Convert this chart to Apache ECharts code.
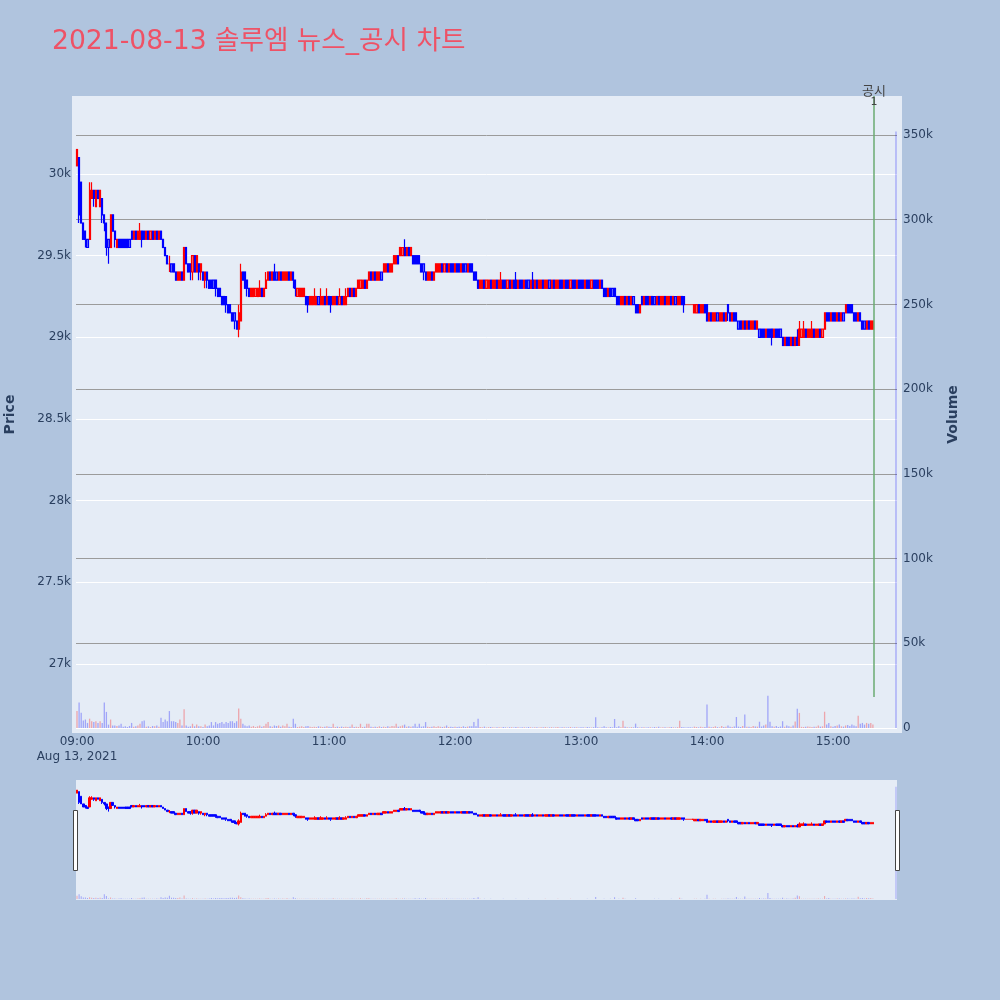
<!DOCTYPE html>
<html>
<head>
<meta charset="utf-8">
<title>chart</title>
<script src="https://cdn.jsdelivr.net/npm/echarts@6.0.0/dist/echarts.min.js"></script>
<style>
html,body{margin:0;padding:0;background:#b0c4de;}
#chart{width:1000px;height:1000px;}
</style>
</head>
<body>
<div id="chart"></div>
<script>
// ---------------- data ----------------
const chartTitle = '2021-08-13 솔루엠 뉴스_공시 차트';
const sessionStart = '09:00';   // first one-minute candle; one entry per minute below

const openPrices = [
30050,30100,29950,29700,29650,29600,29600,29850,29900,29800,
29900,29800,29850,29750,29700,29600,29550,29750,29650,29550,
29600,29600,29600,29600,29600,29600,29650,29600,29650,29600,
29600,29650,29650,29600,29650,29600,29650,29600,29650,29600,
29650,29600,29550,29500,29450,29450,29450,29400,29350,29350,
29400,29350,29550,29450,29450,29400,29500,29400,29450,29400,
29400,29350,29400,29350,29350,29350,29350,29300,29300,29250,
29250,29250,29200,29200,29150,29150,29100,29050,29100,29400,
29400,29350,29300,29250,29250,29250,29250,29250,29300,29250,
29300,29350,29400,29350,29400,29400,29350,29400,29350,29350,
29350,29400,29350,29400,29350,29250,29250,29250,29250,29250,
29250,29200,29200,29200,29200,29250,29200,29200,29250,29200,
29250,29250,29200,29200,29250,29200,29250,29200,29200,29250,
29300,29250,29300,29250,29300,29300,29300,29350,29300,29350,
29400,29350,29400,29350,29350,29400,29400,29400,29450,29400,
29400,29450,29450,29500,29500,29500,29550,29500,29550,29500,
29500,29500,29500,29500,29450,29450,29400,29350,29350,29400,
29350,29400,29400,29400,29450,29400,29450,29400,29450,29450,
29400,29450,29450,29400,29450,29450,29400,29450,29450,29400,
29400,29350,29300,29300,29350,29300,29300,29350,29300,29300,
29350,29300,29300,29350,29350,29300,29350,29300,29350,29350,
29300,29350,29350,29300,29350,29350,29300,29350,29300,29350,
29300,29300,29350,29300,29300,29350,29300,29350,29300,29300,
29350,29350,29300,29350,29350,29300,29350,29350,29300,29350,
29350,29350,29300,29350,29350,29300,29350,29350,29350,29300,
29350,29300,29300,29250,29300,29300,29300,29250,29250,29200,
29200,29250,29200,29250,29200,29250,29200,29200,29150,29250,
29200,29250,29250,29200,29250,29250,29200,29250,29200,29200,
29250,29200,29200,29250,29200,29250,29200,29200,29250,29250,
29200,29200,29200,29200,29150,29150,29200,29150,29150,29200,
29200,29100,29150,29100,29100,29150,29100,29100,29150,29100,
29200,29150,29100,29150,29150,29100,29100,29050,29100,29050,
29100,29050,29050,29100,29050,29050,29050,29050,29000,29050,
29050,29050,29000,29050,29050,29050,29000,28950,29000,29000,
28950,29000,28950,29000,28950,29000,29000,29050,29000,29000,
29000,29050,29000,29000,29050,29000,29050,29150,29150,29100,
29150,29150,29100,29150,29100,29150,29150,29200,29200,29200,
29150,29150,29100,29150,29100,29100,29050,29100,29050,29050
];
const closePrices = [
30150,29750,29700,29600,29600,29550,29900,29900,29850,29900,
29850,29900,29750,29700,29550,29550,29750,29650,29600,29600,
29550,29550,29550,29550,29550,29550,29600,29650,29600,29650,
29650,29600,29600,29650,29600,29650,29600,29650,29600,29650,
29600,29550,29500,29450,29450,29400,29400,29350,29400,29400,
29350,29550,29450,29400,29400,29500,29400,29500,29400,29450,
29350,29400,29350,29300,29300,29300,29300,29250,29250,29200,
29200,29200,29150,29150,29100,29100,29050,29150,29400,29350,
29300,29300,29250,29300,29300,29300,29300,29300,29250,29300,
29350,29400,29350,29400,29350,29350,29400,29350,29400,29400,
29400,29350,29400,29350,29300,29300,29300,29300,29300,29200,
29200,29250,29250,29250,29250,29200,29250,29250,29200,29250,
29200,29200,29250,29250,29200,29250,29200,29250,29250,29300,
29250,29300,29250,29300,29350,29350,29350,29300,29350,29400,
29350,29400,29350,29400,29400,29350,29450,29450,29400,29450,
29450,29500,29500,29450,29550,29550,29500,29550,29500,29550,
29450,29450,29450,29450,29400,29400,29350,29400,29400,29350,
29400,29450,29450,29450,29400,29450,29400,29450,29400,29400,
29450,29400,29400,29450,29400,29400,29450,29400,29400,29350,
29350,29300,29350,29350,29300,29350,29350,29300,29350,29350,
29300,29350,29350,29300,29300,29350,29300,29350,29300,29300,
29350,29300,29300,29350,29300,29300,29350,29300,29350,29300,
29350,29350,29300,29350,29350,29300,29350,29300,29350,29350,
29300,29300,29350,29300,29300,29350,29300,29300,29350,29300,
29300,29300,29350,29300,29300,29350,29300,29300,29300,29350,
29300,29250,29250,29300,29250,29250,29250,29200,29200,29250,
29250,29200,29250,29200,29250,29200,29150,29150,29200,29200,
29250,29200,29200,29250,29200,29200,29250,29200,29250,29250,
29200,29250,29250,29200,29250,29200,29250,29250,29200,29200,
29200,29200,29200,29200,29200,29200,29150,29200,29200,29150,
29100,29150,29100,29150,29150,29100,29150,29150,29100,29150,
29150,29100,29150,29100,29100,29050,29050,29100,29050,29100,
29050,29100,29100,29050,29100,29000,29000,29000,29050,29000,
29000,29000,29050,29000,29000,29000,28950,29000,28950,28950,
29000,28950,29000,28950,29050,29050,29050,29000,29050,29050,
29050,29000,29050,29050,29000,29050,29150,29100,29100,29150,
29100,29100,29150,29100,29150,29100,29200,29150,29150,29150,
29100,29100,29150,29100,29050,29050,29100,29050,29100,29100
];
const lowPrices = [
30050,29700,29700,29600,29550,29550,29600,29850,29800,29800,
29850,29800,29700,29650,29500,29450,29550,29650,29550,29550,
29550,29550,29550,29550,29550,29550,29600,29600,29600,29600,
29600,29550,29600,29600,29600,29600,29600,29600,29600,29600,
29600,29550,29500,29450,29400,29400,29400,29350,29350,29350,
29350,29350,29450,29400,29350,29350,29400,29400,29350,29350,
29350,29300,29300,29300,29300,29300,29250,29250,29250,29200,
29200,29150,29150,29150,29100,29050,29050,29000,29100,29350,
29300,29250,29250,29250,29250,29250,29250,29250,29250,29250,
29300,29350,29350,29350,29350,29350,29350,29350,29350,29350,
29350,29350,29350,29300,29250,29250,29250,29250,29250,29200,
29150,29200,29200,29200,29200,29200,29200,29200,29200,29200,
29200,29150,29200,29200,29200,29200,29200,29200,29200,29250,
29250,29250,29250,29250,29300,29300,29300,29300,29300,29350,
29350,29350,29350,29350,29350,29350,29400,29400,29400,29400,
29400,29450,29450,29450,29500,29500,29500,29500,29500,29500,
29450,29450,29450,29450,29400,29350,29350,29350,29350,29350,
29350,29400,29400,29400,29400,29400,29400,29400,29400,29400,
29400,29400,29400,29400,29400,29400,29400,29400,29400,29350,
29350,29300,29300,29300,29300,29300,29300,29300,29300,29300,
29300,29300,29300,29300,29300,29300,29300,29300,29300,29300,
29300,29300,29300,29300,29300,29300,29300,29300,29300,29300,
29300,29300,29300,29300,29300,29300,29300,29300,29300,29300,
29300,29300,29300,29300,29300,29300,29300,29300,29300,29300,
29300,29300,29300,29300,29300,29300,29300,29300,29300,29300,
29300,29250,29250,29250,29250,29250,29250,29200,29200,29200,
29200,29200,29200,29200,29200,29200,29150,29150,29150,29200,
29200,29200,29200,29200,29200,29200,29200,29200,29200,29200,
29200,29200,29200,29200,29200,29200,29200,29200,29200,29150,
29200,29200,29200,29200,29150,29150,29150,29150,29150,29150,
29100,29100,29100,29100,29100,29100,29100,29100,29100,29100,
29100,29100,29100,29100,29100,29050,29050,29050,29050,29050,
29050,29050,29050,29050,29050,29000,29000,29000,29000,29000,
29000,28950,29000,29000,29000,29000,28950,28950,28950,28950,
28950,28950,28950,28950,28950,29000,29000,29000,29000,29000,
29000,29000,29000,29000,29000,29000,29050,29100,29100,29100,
29100,29100,29100,29100,29100,29100,29150,29150,29150,29150,
29100,29100,29100,29100,29050,29050,29050,29050,29050,29050
];
const highPrices = [
30150,30100,29950,29700,29650,29600,29950,29950,29900,29900,
29900,29900,29850,29750,29700,29600,29750,29750,29650,29600,
29600,29600,29600,29600,29600,29600,29650,29650,29650,29650,
29700,29650,29650,29650,29650,29650,29650,29650,29650,29650,
29650,29600,29550,29500,29500,29450,29450,29400,29400,29400,
29400,29550,29550,29450,29450,29500,29500,29500,29450,29450,
29400,29400,29400,29350,29350,29350,29350,29300,29300,29250,
29250,29250,29200,29200,29150,29150,29100,29200,29450,29400,
29400,29350,29300,29300,29300,29300,29300,29350,29300,29300,
29400,29400,29400,29400,29450,29400,29400,29400,29400,29400,
29400,29400,29400,29400,29350,29300,29300,29300,29300,29250,
29250,29250,29250,29300,29250,29250,29300,29250,29250,29300,
29250,29250,29250,29250,29250,29300,29250,29250,29300,29300,
29300,29300,29300,29300,29350,29350,29350,29350,29350,29400,
29400,29400,29400,29400,29400,29400,29450,29450,29450,29450,
29450,29500,29500,29500,29550,29550,29600,29550,29550,29550,
29500,29500,29500,29500,29450,29450,29400,29400,29400,29400,
29400,29450,29450,29450,29450,29450,29450,29450,29450,29450,
29450,29450,29450,29450,29450,29450,29450,29450,29450,29400,
29400,29350,29350,29350,29350,29350,29350,29350,29350,29350,
29350,29350,29400,29350,29350,29350,29350,29350,29350,29400,
29350,29350,29350,29350,29350,29350,29350,29400,29350,29350,
29350,29350,29350,29350,29350,29350,29350,29350,29350,29350,
29350,29350,29350,29350,29350,29350,29350,29350,29350,29350,
29350,29350,29350,29350,29350,29350,29350,29350,29350,29350,
29350,29300,29300,29300,29300,29300,29300,29250,29250,29250,
29250,29250,29250,29250,29250,29250,29200,29200,29200,29250,
29250,29250,29250,29250,29250,29250,29250,29250,29250,29250,
29250,29250,29250,29250,29250,29250,29250,29250,29250,29250,
29200,29200,29200,29200,29200,29200,29200,29200,29200,29200,
29200,29150,29150,29150,29150,29150,29150,29150,29150,29150,
29200,29150,29150,29150,29150,29100,29100,29100,29100,29100,
29100,29100,29100,29100,29100,29050,29050,29050,29050,29050,
29050,29050,29050,29050,29050,29050,29000,29000,29000,29000,
29000,29000,29000,29050,29100,29050,29100,29050,29050,29050,
29100,29050,29050,29050,29050,29050,29150,29150,29150,29150,
29150,29150,29150,29150,29150,29150,29200,29200,29200,29200,
29150,29150,29150,29150,29100,29100,29100,29100,29100,29100
];
const volumes = [
10000,15000,9000,4500,5000,3000,5500,4000,3500,4000,
3000,4000,3000,15000,9500,2000,5000,1500,1500,1200,
1500,2500,800,1000,600,1200,3000,800,1000,1500,
2500,4000,4500,800,1000,600,1200,1000,1500,800,
6000,3500,5000,4000,10000,4000,4000,3500,3000,5000,
1500,11000,1500,800,1000,2500,1000,2000,1000,1000,
600,2000,1000,1500,3500,1500,3500,2500,3000,3500,
2500,3500,3000,4000,4000,3000,4000,11500,5500,2500,
1500,1000,1500,800,1200,600,1000,1500,800,1200,
2500,3500,1000,800,1500,1200,1500,800,1500,1000,
2500,800,600,5500,2500,600,800,1000,600,1000,
1200,800,600,800,600,1000,800,600,800,1000,
800,600,2500,600,800,600,800,600,800,600,
800,2000,600,800,600,2500,600,800,2500,2500,
800,600,800,600,1000,600,800,600,1000,800,
1200,1000,2500,800,1000,1500,2000,800,1000,800,
1000,2500,800,2500,800,1000,3500,800,600,800,
1000,600,1000,800,600,800,1500,600,800,600,
800,600,800,600,1000,600,800,1000,1000,3500,
1000,5500,600,400,800,300,500,600,400,300,
500,400,300,600,400,300,500,400,300,600,
400,300,500,400,300,600,400,300,500,400,
300,500,400,600,300,400,500,300,400,600,
300,400,500,300,400,600,300,400,500,300,
400,500,300,600,400,300,500,6300,400,300,
500,1000,400,300,600,400,5300,500,1000,400,
4300,800,400,300,500,400,2600,400,300,500,
400,300,500,400,300,600,400,800,300,500,
400,300,500,600,400,300,500,4300,600,400,
300,400,500,300,800,600,400,700,500,600,
13800,800,400,600,1000,500,400,1200,600,800,
1500,700,600,900,6500,800,600,1200,7900,700,
800,600,1200,900,800,3700,900,1500,2000,19000,
3700,1000,800,1200,600,900,4000,800,1500,1000,
800,1500,3900,11400,8900,700,600,800,900,700,
600,800,700,1500,800,1000,9600,2000,3000,1000,
800,1200,1500,2000,1000,800,1500,1800,1200,2000,
1500,1000,7300,2500,3000,2000,3000,2500,3000,2000
];
const auctionTimes = ['15:30'];
const auctionVolumes = [352000];
const disclosureTimes = ['15:19:30'];
const disclosureLabels = ['공시'];

const timeTicks = ['09:00','10:00','11:00','12:00','13:00','14:00','15:00'];
const dateLabel = 'Aug 13, 2021';
const priceTicks = [27000,27500,28000,28500,29000,29500,30000];
const volumeTicks = [0,50000,100000,150000,200000,250000,300000,350000];

// ---------------- helpers ----------------
const FONT = "'DejaVu Sans', 'Noto Sans CJK KR', sans-serif";
const TXT = '#2a3f5f';
const UP = '#ff0000', DOWN = '#0000ff';
const UP_FILL = 'rgba(255,0,0,0.5)', DOWN_FILL = 'rgba(0,0,255,0.5)';
const UP_VOL = 'rgba(255,0,0,0.3)', DOWN_VOL = 'rgba(0,0,255,0.3)';
function toMin(t) {
  const p = t.split(':').map(Number);
  return (p[0] - 9) * 60 + p[1] + (p[2] || 0) / 60;
}
const x0 = toMin(sessionStart);
const candleData = openPrices.map((o, i) => [x0 + i, o, closePrices[i], lowPrices[i], highPrices[i]]);
const volData = volumes.map((v, i) => ({
  value: [x0 + i, v],
  itemStyle: { color: closePrices[i] > openPrices[i] ? UP_VOL : DOWN_VOL }
}));
auctionTimes.forEach((t, i) => volData.push({ value: [toMin(t), auctionVolumes[i]], itemStyle: { color: DOWN_VOL } }));

// axis ranges (view window)
const X_MIN = -0.476, X_MAX = 390.48;
const P_MIN = 26577.5, P_MAX = 30477.6;
const V_MIN = -2950, V_MAX = 373000;
const LINE_BOTTOM = 26798;  // disclosure line lower end (5% of plot height)

const kFmt = v => v === 0 ? '0' : (v / 1000) + 'k';

// range-slider handle decoration (layout only)
const handleStyle = { fill: '#ffffff', stroke: '#444444', lineWidth: 1 };

const chart = echarts.init(document.getElementById('chart'), null, { renderer: 'canvas' });
const option = {
  backgroundColor: '#b0c4de',
  animation: false,
  textStyle: { fontFamily: FONT },
  title: {
    text: chartTitle, left: 47, top: 24,
    textStyle: { fontFamily: FONT, fontSize: 26.6, fontWeight: 'normal', color: '#ee5266' }
  },
  graphic: [
    { type: 'rect', silent: true, z: -10, shape: { x: 72, y: 96, width: 830, height: 637 }, style: { fill: '#e5ecf6' } },
    { type: 'rect', silent: true, z: 100, shape: { x: 73.5, y: 810.5, width: 4, height: 60 }, style: handleStyle },
    { type: 'rect', silent: true, z: 100, shape: { x: 895.5, y: 810.5, width: 4, height: 60 }, style: handleStyle }
  ],
  grid: [
    { left: 76, top: 96, width: 821, height: 637, show: false, containLabel: false, outerBoundsMode: 'none' },
    { left: 76, top: 780, width: 821, height: 120, show: true, backgroundColor: '#e5ecf6', borderWidth: 0, containLabel: false, outerBoundsMode: 'none' }
  ],
  xAxis: [
    {
      type: 'value', gridIndex: 0, min: X_MIN, max: X_MAX,
      axisLine: { show: false }, splitLine: { show: false },
      axisTick: { show: false, customValues: timeTicks.map(toMin) },
      axisLabel: {
        customValues: timeTicks.map(toMin), margin: 1,
        color: TXT, fontFamily: FONT, fontSize: 12,
        formatter: v => {
          const t = timeTicks.find(s => Math.abs(toMin(s) - v) < 1e-6) || '';
          return v === toMin(timeTicks[0]) ? '{t|' + t + '}\n{d|' + dateLabel + '}' : '{t|' + t + '}';
        },
        rich: {
          t: { lineHeight: 15, fontSize: 12, color: TXT, fontFamily: FONT },
          d: { lineHeight: 16, fontSize: 12, color: TXT, fontFamily: FONT }
        }
      }
    },
    {
      type: 'value', gridIndex: 1, min: X_MIN, max: X_MAX, show: false,
      splitLine: { show: false }
    }
  ],
  yAxis: [
    {
      type: 'value', gridIndex: 0, position: 'left', min: P_MIN, max: P_MAX,
      name: 'Price', nameLocation: 'middle', nameGap: 59,
      nameTextStyle: { color: TXT, fontFamily: FONT, fontSize: 14, fontWeight: 'bold' },
      axisLine: { show: false },
      axisTick: { show: false, customValues: priceTicks },
      axisLabel: { customValues: priceTicks, formatter: kFmt, color: TXT, fontFamily: FONT, fontSize: 12, margin: 5 },
      splitLine: { show: true, lineStyle: { color: '#ffffff', width: 1 } }
    },
    {
      type: 'value', gridIndex: 0, position: 'right', min: V_MIN, max: V_MAX,
      name: 'Volume', nameLocation: 'middle', nameGap: 49,
      nameTextStyle: { color: TXT, fontFamily: FONT, fontSize: 14, fontWeight: 'bold' },
      axisLine: { show: false },
      axisTick: { show: false, customValues: volumeTicks },
      axisLabel: { customValues: volumeTicks, formatter: kFmt, color: TXT, fontFamily: FONT, fontSize: 12, margin: 6 },
      splitLine: { show: true, lineStyle: { color: ['#ffffff', '#9b9b9b', '#9b9b9b', '#9b9b9b', '#9b9b9b', '#9b9b9b', '#9b9b9b', '#9b9b9b'], width: 1 } }
    },
    { type: 'value', gridIndex: 1, min: P_MIN, max: P_MAX, show: false, splitLine: { show: false } },
    { type: 'value', gridIndex: 1, min: V_MIN, max: V_MAX, show: false, splitLine: { show: false } }
  ],
  series: [
    {
      name: 'Volume', type: 'bar', xAxisIndex: 0, yAxisIndex: 1, data: volData,
      barWidth: 1.3, z: 1, silent: true
    },
    {
      name: 'Price', type: 'candlestick', xAxisIndex: 0, yAxisIndex: 0, data: candleData,
      encode: { x: 0, y: [1, 2, 3, 4] },
      barWidth: 1.6, z: 3, silent: true,
      itemStyle: { color: UP_FILL, color0: DOWN_FILL, borderColor: UP, borderColor0: DOWN, borderWidth: 1.2 }
    },
    {
      name: 'disclosure', type: 'line', xAxisIndex: 0, yAxisIndex: 0, data: [], z: 4, silent: true,
      markLine: {
        silent: true, symbol: 'none', animation: false,
        lineStyle: { color: '#6aab72', width: 1.5, type: 'solid' },
        label: {
          show: true, position: 'end', distance: -11,
          formatter: p => '{a|' + p.name + '}\n{b|1}',
          rich: {
            a: { fontSize: 13, lineHeight: 12, color: '#444', fontFamily: FONT },
            b: { fontSize: 11, lineHeight: 9, color: '#444', fontFamily: FONT }
          }
        },
        emphasis: { disabled: true },
        data: disclosureTimes.map((t, i) => [
          { name: disclosureLabels[i], coord: [toMin(t), LINE_BOTTOM] },
          { coord: [toMin(t), P_MAX] }
        ])
      }
    },
    {
      name: 'Volume (range)', type: 'bar', xAxisIndex: 1, yAxisIndex: 3, data: volData,
      barWidth: 1, z: 1, silent: true
    },
    {
      name: 'Price (range)', type: 'candlestick', xAxisIndex: 1, yAxisIndex: 2, data: candleData,
      encode: { x: 0, y: [1, 2, 3, 4] },
      barWidth: 2, z: 3, silent: true,
      itemStyle: { color: UP, color0: DOWN, borderColor: UP, borderColor0: DOWN, borderWidth: 1 }
    }
  ]
};
chart.setOption(option);
</script>
</body>
</html>
